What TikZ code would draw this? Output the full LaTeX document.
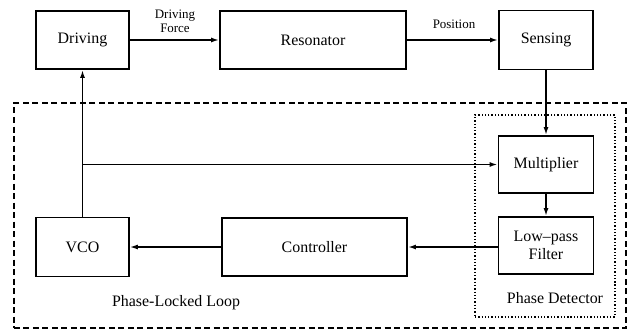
\documentclass[tikz,border=0pt]{standalone}
\usepackage{fontspec}
\setmainfont[Ligatures=TeX]{Liberation Serif}
\usetikzlibrary{arrows.meta}
\begin{document}
\begin{tikzpicture}[x=1bp,y=-1bp,
  blockbox/.style={draw,line width=1.8bp,inner sep=0pt,font=\rmfamily\fontsize{16}{18}\selectfont,align=center},
  conn/.style={line width=1.6bp,-{Latex[length=8bp,width=5bp]}},
  lbl/.style={font=\rmfamily\fontsize{13}{14.5}\selectfont,align=center,inner sep=0pt},
  captext/.style={font=\rmfamily\fontsize{16}{18}\selectfont,inner sep=0pt}]
\useasboundingbox (0,0) rectangle (634,333);
% boxes
\node[blockbox,minimum width=93bp,minimum height=58bp] (drv) at (82.5,40) {Driving};
\node[blockbox,minimum width=186bp,minimum height=58bp] (res) at (313,40) {Resonator};
\node[blockbox,minimum width=94bp,minimum height=59bp] (sen) at (546,40) {Sensing};
\node[blockbox,minimum width=95bp,minimum height=57bp] (mul) at (546,164.5) {Multiplier};
\node[blockbox,minimum width=95bp,minimum height=57bp] (lpf) at (546,245.5) {Low–pass\\Filter};
\node[blockbox,minimum width=93bp,minimum height=59bp] (vco) at (82.5,247) {VCO};
\node[blockbox,minimum width=185bp,minimum height=58bp] (ctl) at (314.5,247) {Controller};
% frames
\node[draw,dash pattern=on 6bp off 3.5bp,line width=1.5bp,minimum width=612bp,minimum height=225bp,inner sep=0pt] (pll) at (320,215.5) {};
\node[draw,dotted,line width=1.3bp,minimum width=140bp,minimum height=202bp,inner sep=0pt] (pd) at (545,216) {};
% labels
\node[lbl] (df) at (175,21.5) {Driving\\Force};
\node[lbl] (pos) at (454,24) {Position};
\node[captext] (pllt) at (176,303) {Phase-Locked Loop};
\node[captext] (pdt) at (555,298) {Phase Detector};
% connectors
\coordinate (j) at (vco.north |- mul.west);
\draw[conn] (drv.east) -- (res.west);
\draw[conn] (res.east) -- (sen.west);
\draw[conn] (sen.south) -- (mul.north);
\draw[conn] (mul.south) -- (lpf.north);
\draw[conn] (lpf.west |- ctl.east) -- (ctl.east);
\draw[conn,line width=1.3bp] (ctl.west) -- (vco.east);
\draw[conn] (vco.north) -- (drv.south);
\draw[conn] (j) -- (mul.west);
\end{tikzpicture}
\end{document}
